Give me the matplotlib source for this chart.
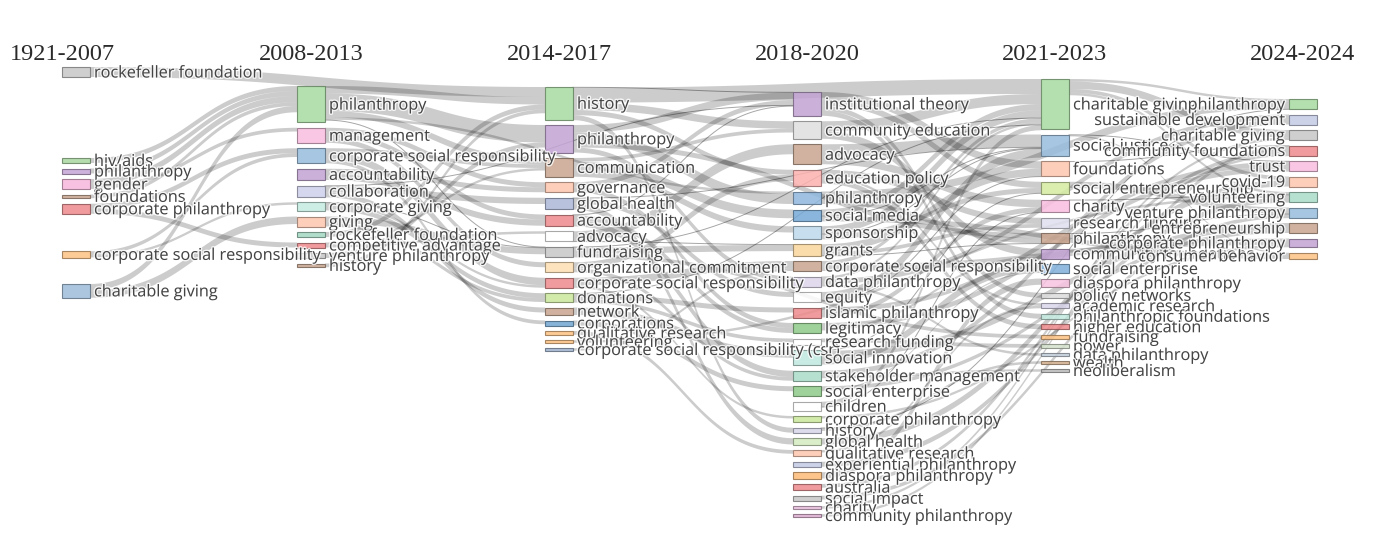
import numpy as np
import matplotlib.pyplot as plt
import matplotlib.patheffects as pe
from matplotlib.patches import Rectangle, Polygon
from matplotlib.colors import to_rgb

# periods (columns of the sankey)
periods = ["1921-2007", "2008-2013", "2014-2017", "2018-2020", "2021-2023", "2024-2024"]

# keywords and their weights per period
kw_p1 = ["rockefeller foundation", "hiv/aids", "philanthropy", "gender", "foundations",
         "corporate philanthropy", "corporate social responsibility", "charitable giving"]
w_p1 = [8, 4, 4, 8, 3, 8, 5, 11]

kw_p2 = ["philanthropy", "management", "corporate social responsibility", "accountability",
         "collaboration", "corporate giving", "giving", "rockefeller foundation",
         "competitive advantage", "venture philanthropy", "history"]
w_p2 = [29, 12, 12, 9, 9, 7, 8, 4, 4, 4, 3]

kw_p3 = ["history", "philanthropy", "communication", "governance", "global health",
         "accountability", "advocacy", "fundraising", "organizational commitment",
         "corporate social responsibility", "donations", "network", "corporations",
         "qualitative research", "volunteering", "corporate social responsibility (csr)"]
w_p3 = [26, 22, 15, 8, 9, 9, 8, 8, 8, 8, 7, 6, 4, 3, 2, 2]

kw_p4 = ["institutional theory", "community education", "advocacy", "education policy",
         "philanthropy", "social media", "sponsorship", "grants",
         "corporate social responsibility", "data philanthropy", "equity",
         "islamic philanthropy", "legitimacy", "research funding", "social innovation",
         "stakeholder management", "social enterprise", "children", "corporate philanthropy",
         "history", "global health", "qualitative research", "experiential philanthropy",
         "diaspora philanthropy", "australia", "social impact", "charity",
         "community philanthropy"]
w_p4 = [19, 14, 16, 13, 10, 9, 10, 9, 8, 8, 8, 8, 8, 5, 12, 8, 8, 7, 5, 4, 5, 5, 4, 5, 5, 4, 2, 2]

kw_p5 = ["charitable giving", "social justice", "foundations", "social entrepreneurship",
         "charity", "research funding", "philanthropy", "community foundations",
         "social enterprise", "diaspora philanthropy", "policy networks", "academic research",
         "philanthropic foundations", "higher education", "fundraising", "power",
         "data philanthropy", "wealth", "neoliberalism"]
w_p5 = [40, 17, 12, 10, 10, 8, 8, 8, 7, 7, 4, 4, 4, 4, 3, 3, 2, 2, 2]

kw_p6 = ["philanthropy", "sustainable development", "charitable giving", "community foundations",
         "trust", "covid-19", "volunteering", "venture philanthropy", "entrepreneurship",
         "corporate philanthropy", "consumer behavior"]
w_p6 = [8, 8, 8, 8, 8, 8, 8, 8, 8, 7, 5]

# flows: (period, keyword, period, keyword, weight)
links = [
    (0, "rockefeller foundation", 2, "history", 8),
    (0, "hiv/aids", 1, "philanthropy", 4),
    (0, "philanthropy", 1, "philanthropy", 4),
    (0, "gender", 1, "philanthropy", 5),
    (0, "gender", 1, "management", 3),
    (0, "foundations", 1, "philanthropy", 3),
    (0, "corporate philanthropy", 1, "corporate social responsibility", 4),
    (0, "corporate philanthropy", 1, "competitive advantage", 4),
    (0, "corporate social responsibility", 1, "corporate social responsibility", 3),
    (0, "corporate social responsibility", 1, "corporate giving", 2),
    (0, "charitable giving", 1, "giving", 6),
    (0, "charitable giving", 1, "philanthropy", 5),
    (1, "philanthropy", 2, "philanthropy", 14),
    (1, "philanthropy", 2, "history", 6),
    (1, "philanthropy", 2, "communication", 5),
    (1, "philanthropy", 3, "philanthropy", 2),
    (1, "management", 2, "accountability", 4),
    (1, "management", 2, "organizational commitment", 4),
    (1, "management", 2, "governance", 4),
    (1, "corporate social responsibility", 2, "corporate social responsibility", 6),
    (1, "corporate social responsibility", 2, "corporations", 3),
    (1, "corporate social responsibility", 2, "communication", 3),
    (1, "accountability", 2, "accountability", 5),
    (1, "accountability", 2, "governance", 4),
    (1, "collaboration", 2, "network", 4),
    (1, "collaboration", 2, "global health", 5),
    (1, "corporate giving", 2, "donations", 4),
    (1, "corporate giving", 2, "corporate social responsibility", 2),
    (1, "giving", 2, "fundraising", 5),
    (1, "giving", 2, "donations", 3),
    (1, "rockefeller foundation", 2, "history", 4),
    (1, "competitive advantage", 2, "communication", 2),
    (1, "competitive advantage", 2, "advocacy", 2),
    (1, "venture philanthropy", 2, "philanthropy", 4),
    (1, "history", 2, "history", 3),
    (2, "history", 4, "charitable giving", 12),
    (2, "history", 3, "community education", 6),
    (2, "history", 3, "history", 4),
    (2, "history", 3, "education policy", 4),
    (2, "philanthropy", 3, "philanthropy", 8),
    (2, "philanthropy", 3, "institutional theory", 6),
    (2, "philanthropy", 4, "philanthropy", 4),
    (2, "philanthropy", 3, "data philanthropy", 4),
    (2, "communication", 3, "social media", 7),
    (2, "communication", 3, "sponsorship", 5),
    (2, "communication", 3, "community education", 3),
    (2, "governance", 3, "legitimacy", 4),
    (2, "governance", 3, "institutional theory", 4),
    (2, "global health", 3, "global health", 5),
    (2, "global health", 3, "equity", 4),
    (2, "accountability", 3, "legitimacy", 4),
    (2, "accountability", 3, "stakeholder management", 5),
    (2, "advocacy", 3, "advocacy", 8),
    (2, "fundraising", 3, "grants", 5),
    (2, "fundraising", 4, "fundraising", 3),
    (2, "organizational commitment", 3, "stakeholder management", 3),
    (2, "organizational commitment", 3, "education policy", 5),
    (2, "corporate social responsibility", 3, "corporate social responsibility", 6),
    (2, "corporate social responsibility", 3, "corporate philanthropy", 2),
    (2, "donations", 3, "islamic philanthropy", 4),
    (2, "donations", 3, "research funding", 3),
    (2, "network", 3, "social innovation", 6),
    (2, "corporations", 3, "social enterprise", 4),
    (2, "qualitative research", 3, "qualitative research", 3),
    (2, "volunteering", 5, "volunteering", 2),
    (2, "corporate social responsibility (csr)", 3, "corporate social responsibility", 2),
    (3, "institutional theory", 4, "social entrepreneurship", 5),
    (3, "institutional theory", 4, "foundations", 6),
    (3, "institutional theory", 4, "philanthropic foundations", 4),
    (3, "institutional theory", 4, "policy networks", 4),
    (3, "community education", 4, "charitable giving", 8),
    (3, "community education", 4, "community foundations", 6),
    (3, "advocacy", 4, "social justice", 10),
    (3, "advocacy", 4, "charity", 6),
    (3, "education policy", 4, "higher education", 4),
    (3, "education policy", 4, "research funding", 5),
    (3, "education policy", 4, "academic research", 2),
    (3, "philanthropy", 4, "philanthropy", 4),
    (3, "philanthropy", 5, "philanthropy", 6),
    (3, "social media", 4, "charitable giving", 5),
    (3, "social media", 5, "consumer behavior", 4),
    (3, "sponsorship", 4, "charitable giving", 6),
    (3, "sponsorship", 4, "social entrepreneurship", 4),
    (3, "grants", 4, "research funding", 3),
    (3, "grants", 4, "foundations", 6),
    (3, "corporate social responsibility", 5, "corporate philanthropy", 5),
    (3, "corporate social responsibility", 4, "charitable giving", 3),
    (3, "data philanthropy", 4, "data philanthropy", 2),
    (3, "data philanthropy", 5, "sustainable development", 4),
    (3, "data philanthropy", 4, "charitable giving", 2),
    (3, "equity", 4, "social justice", 7),
    (3, "islamic philanthropy", 4, "charity", 4),
    (3, "islamic philanthropy", 5, "trust", 4),
    (3, "legitimacy", 5, "trust", 4),
    (3, "legitimacy", 4, "community foundations", 2),
    (3, "research funding", 4, "power", 3),
    (3, "social innovation", 4, "social enterprise", 6),
    (3, "social innovation", 5, "entrepreneurship", 5),
    (3, "stakeholder management", 4, "neoliberalism", 2),
    (3, "stakeholder management", 5, "sustainable development", 4),
    (3, "social enterprise", 4, "social enterprise", 1),
    (3, "social enterprise", 5, "entrepreneurship", 3),
    (3, "children", 4, "charitable giving", 4),
    (3, "corporate philanthropy", 5, "corporate philanthropy", 2),
    (3, "history", 4, "wealth", 2),
    (3, "global health", 5, "covid-19", 5),
    (3, "qualitative research", 4, "academic research", 2),
    (3, "experiential philanthropy", 5, "volunteering", 4),
    (3, "diaspora philanthropy", 4, "diaspora philanthropy", 5),
    (3, "australia", 5, "community foundations", 3),
    (3, "social impact", 5, "venture philanthropy", 3),
    (3, "charity", 5, "charitable giving", 2),
    (3, "community philanthropy", 5, "community foundations", 2),
    (4, "charitable giving", 5, "charitable giving", 6),
    (4, "charitable giving", 5, "covid-19", 3),
    (4, "charitable giving", 5, "volunteering", 2),
    (4, "charitable giving", 5, "philanthropy", 2),
    (4, "community foundations", 5, "community foundations", 3),
    (4, "social entrepreneurship", 5, "venture philanthropy", 5),
    (4, "social justice", 5, "consumer behavior", 1),
    # weak co-occurrences
    (1, "collaboration", 3, "institutional theory", 0.5),
    (1, "corporate giving", 2, "fundraising", 0.5),
    (1, "philanthropy", 2, "fundraising", 0.5),
    (2, "advocacy", 3, "grants", 0.5),
    (2, "accountability", 3, "institutional theory", 0.5),
    (2, "global health", 4, "social justice", 0.5),
    (2, "donations", 4, "charitable giving", 0.5),
    (2, "fundraising", 4, "charitable giving", 0.5),
    (2, "history", 3, "institutional theory", 0.5),
    (3, "social media", 4, "social justice", 0.5),
    (3, "sponsorship", 4, "social justice", 0.5),
    (3, "grants", 4, "philanthropy", 0.5),
    (3, "equity", 4, "foundations", 0.5),
    (3, "social innovation", 4, "social entrepreneurship", 0.5),
    (3, "children", 4, "charity", 0.5),
    (3, "history", 5, "philanthropy", 0.5),
    (4, "social justice", 5, "trust", 0.5),
    (4, "foundations", 5, "community foundations", 0.5),
    (4, "charity", 5, "volunteering", 0.5),
    (4, "philanthropy", 5, "venture philanthropy", 0.5),
]

# node colours (style)
colors = [
    ["#c7c7c7", "#a8d8a0", "#c4a5d6", "#f7b6dc", "#c9a58f", "#ee8a8c", "#fdc283", "#9fbcdb"],
    ["#a6dba0", "#f9bde0", "#98bcdc", "#c2a3d4", "#cdd0ea", "#c4ebe0", "#fdc6ad", "#a4d9c4",
     "#ee8a8c", "#c7c7c7", "#c9a58f"],
    ["#a6dba0", "#c2a3d4", "#c9a58f", "#fdc6ad", "#acb8d8", "#ee8a8c", "#ffffff", "#c7c7c7",
     "#fde0b3", "#ee8a8c", "#cbe89c", "#c9a58f", "#72a6d2", "#fdc283", "#fdc283", "#9fb3d0"],
    ["#c2a3d4", "#dedede", "#c9a58f", "#fbb1ae", "#8fb7dd", "#76a8d6", "#bcd9ec", "#f9d69a",
     "#c9a58f", "#dcd5ea", "#ffffff", "#ee8a8c", "#8dcb88", "#ffffff", "#bfe8e0", "#a9dcc8",
     "#8dcb88", "#ffffff", "#cbe89c", "#d6d6ea", "#d3ecc0", "#fdc6ad", "#c4cce6", "#fdbb77",
     "#ee8a8c", "#c7c7c7", "#e7bbdc", "#dcaed0"],
    ["#a6dba0", "#98bcdc", "#fdc6ad", "#d5eca0", "#f9bde0", "#dfdfef", "#c9a58f", "#c2a3d4",
     "#7fb0da", "#f7c3e0", "#dcdcdc", "#dad6ec", "#c4ebe0", "#ee8a8c", "#fdc283", "#d4e2cc",
     "#c3cfdc", "#d4b08e", "#bbbbbb"],
    ["#a6dba0", "#c4cce6", "#c7c7c7", "#ee8a8c", "#f9bde0", "#fdc6ad", "#a9dcc8", "#98bcdc",
     "#c9a58f", "#c2a3d4", "#fdc283"],
]

keywords = [kw_p1, kw_p2, kw_p3, kw_p4, kw_p5, kw_p6]
weights = [w_p1, w_p2, w_p3, w_p4, w_p5, w_p6]

# layout (pixel space)
W, H = 1381, 534
px_per_unit = 1.25
pad = 5.5
node_w = 28
col_left = [62, 297, 545, 793, 1041, 1289]
title_x = [62, 311, 559, 807, 1055, 1303]
col_top = [67, 86, 87, 92, 79, 99]
extra_gap = {(0, 1): 75.5, (0, 6): 32, (0, 7): 21}
label_size = 11.7

fig = plt.figure(figsize=(W / 100, H / 100), dpi=100)
ax = fig.add_axes([0, 0, 1, 1])
ax.set_xlim(0, W)
ax.set_ylim(H, 0)
ax.axis("off")

nodes = {}
for c, (kws, ws) in enumerate(zip(keywords, weights)):
    y = col_top[c]
    for i, (k, w) in enumerate(zip(kws, ws)):
        y += extra_gap.get((c, i), 0)
        h = w * px_per_unit
        nodes[(c, k)] = dict(x0=col_left[c], x1=col_left[c] + node_w, y0=y, y1=y + h,
                             color=colors[c][i], col=c)
        y += h + pad


def center(key):
    n = nodes[key]
    return (n["y0"] + n["y1"]) / 2


# stack link ends inside nodes
out_off = {k: nodes[k]["y0"] for k in nodes}
in_off = {k: nodes[k]["y0"] for k in nodes}
ends = {}
order_out = sorted(range(len(links)), key=lambda j: center((links[j][2], links[j][3])))
for j in order_out:
    s = (links[j][0], links[j][1])
    h = links[j][4] * px_per_unit
    ends[(j, "s")] = (out_off[s], out_off[s] + h)
    out_off[s] += h
order_in = sorted(range(len(links)), key=lambda j: center((links[j][0], links[j][1])))
for j in order_in:
    t = (links[j][2], links[j][3])
    h = links[j][4] * px_per_unit
    ends[(j, "t")] = (in_off[t], in_off[t] + h)
    in_off[t] += h

tt = np.linspace(0, 1, 60)


def bez(a, b):
    return (1 - tt) ** 3 * a + 3 * (1 - tt) ** 2 * tt * a + 3 * (1 - tt) * tt ** 2 * b + tt ** 3 * b


for j, (sc, sk, tc, tk, v) in enumerate(links):
    x0 = nodes[(sc, sk)]["x1"]
    x1 = nodes[(tc, tk)]["x0"]
    xm = (x0 + x1) / 2
    bx = (1 - tt) ** 3 * x0 + 3 * (1 - tt) ** 2 * tt * xm + 3 * (1 - tt) * tt ** 2 * xm + tt ** 3 * x1
    sa, sb = ends[(j, "s")]
    ta, tb = ends[(j, "t")]
    if v < 1:
        ax.plot(bx, bez((sa + sb) / 2, (ta + tb) / 2), color=(0, 0, 0, 0.35), lw=0.7, zorder=1)
    else:
        top = bez(sa, ta)
        bot = bez(sb, tb)
        verts = np.column_stack([np.r_[bx, bx[::-1]], np.r_[top, bot[::-1]]])
        ax.add_patch(Polygon(verts, closed=True, facecolor=(0, 0, 0, 0.2), edgecolor="none", zorder=1))

halo = [pe.withStroke(linewidth=2, foreground=(1, 1, 1, 0.8))]
for (c, k), n in nodes.items():
    fc = to_rgb(n["color"])
    ec = tuple(v * 0.6 for v in fc)
    ax.add_patch(Rectangle((n["x0"], n["y0"]), node_w, n["y1"] - n["y0"],
                           facecolor=fc, edgecolor=ec, lw=0.8, alpha=0.85, zorder=2))
    yc = (n["y0"] + n["y1"]) / 2 + 1.5
    if c == len(periods) - 1:
        ax.text(n["x0"] - 4, yc, k, ha="right", va="center", fontsize=label_size,
                family="Open Sans", color="#444444", zorder=3, path_effects=halo)
    else:
        ax.text(n["x1"] + 4, yc, k, ha="left", va="center", fontsize=label_size,
                family="Open Sans", color="#444444", zorder=3, path_effects=halo)

for c, p in enumerate(periods):
    ax.text(title_x[c], 54, p, ha="center", va="center", fontsize=17.5,
            family="Liberation Serif", color="#2a2a2a", zorder=3)

fig.savefig("out.png", dpi=100)
